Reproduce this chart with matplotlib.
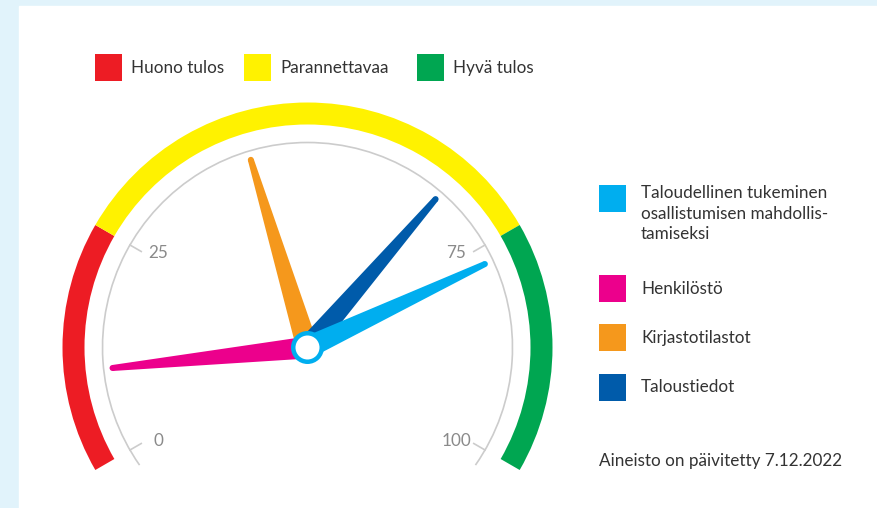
import numpy as np
import matplotlib
matplotlib.use("Agg")
from matplotlib import pyplot as plt
from matplotlib.patches import Wedge, Polygon, Circle, Arc, Rectangle

plt.rcParams['font.family'] = ['Lato', 'DejaVu Sans']

# vyöhykkeet (asteikko 0-100)
band_names = ["Huono tulos", "Parannettavaa", "Hyvä tulos"]
band_edges = [0, 25, 75, 100]
band_colors = ["#ed1c24", "#fff200", "#00a651"]

# osoittimet
series_names = ["Taloudellinen tukeminen\nosallistumisen mahdollis-\ntamiseksi",
                "Henkilöstö", "Kirjastotilastot", "Taloustiedot"]
series_values = [77, 10, 43, 67]
series_colors = ["#00aeef", "#ec008c", "#f5981c", "#005baa"]

tick_values = [0, 25, 75, 100]
tick_labels = ["0", "25", "75", "100"]

updated = "Aineisto on päivitetty 7.12.2022"

W, H = 877, 508
fig = plt.figure(figsize=(W / 100, H / 100), dpi=100)
fig.patch.set_facecolor("#e1f3fb")
ax = fig.add_axes([0, 0, 1, 1])
ax.set_xlim(0, W)
ax.set_ylim(0, H)
ax.axis("off")
ax.add_patch(Rectangle((19, 0), W - 19, H - 6, color="white", zorder=0))

cx, cy = 307.5, H - 347.5
R_OUT, BAND_W, R_GRID = 245, 22, 205
FS = 12.3


def angle(v):
    # 0 vasemmalla alhaalla, 100 oikealla alhaalla, 240 astetta
    return 210 - 2.4 * v


# värivyöhykkeet
for i in range(len(band_names)):
    ax.add_patch(Wedge((cx, cy), R_OUT, angle(band_edges[i + 1]), angle(band_edges[i]),
                       width=BAND_W, color=band_colors[i], lw=0, zorder=2))

# harmaa asteikkokaari ja tikit
ax.add_patch(Arc((cx, cy), 2 * R_GRID, 2 * R_GRID, theta1=-35, theta2=215,
                 color="#cccccc", lw=1.2, zorder=2))
for v, lab in zip(tick_values, tick_labels):
    a = np.deg2rad(angle(v))
    ax.plot([cx + 192 * np.cos(a), cx + R_GRID * np.cos(a)],
            [cy + 192 * np.sin(a), cy + R_GRID * np.sin(a)],
            color="#cccccc", lw=1.2, zorder=2)
    ax.text(cx + 172 * np.cos(a), cy + 188 * np.sin(a), lab, color="#8a8a8a",
            fontsize=FS, ha="center", va="center", zorder=3)

# osoittimet, pienin arvo alimmaisena
for z, i in enumerate(np.argsort(series_values)):
    a = np.deg2rad(angle(series_values[i]))
    u = np.array([np.cos(a), np.sin(a)])
    n = np.array([-u[1], u[0]])
    c = np.array([cx, cy])
    L, w0, w1 = 196, 11, 3
    pts = [c + w0 * n, c + L * u + w1 * n, c + L * u - w1 * n, c - w0 * n]
    ax.add_patch(Polygon(pts, closed=True, color=series_colors[i], lw=0, zorder=4 + z))
    ax.add_patch(Circle(c + L * u, w1, color=series_colors[i], lw=0, zorder=4 + z))

# keskiö
ax.add_patch(Circle((cx, cy), 16.5, color=series_colors[0], lw=0, zorder=10))
ax.add_patch(Circle((cx, cy), 12, color="white", lw=0, zorder=11))

txt_color = "#333333"

# ylälegenda
top_x = [95, 244, 417]
for x, name, col in zip(top_x, band_names, band_colors):
    ax.add_patch(Rectangle((x, H - 81), 27, 27, color=col, lw=0))
    ax.text(x + 36, H - 68, name, fontsize=FS, color=txt_color, ha="left", va="center")

# oikea legenda
right_y = [198.5, 288.5, 337.5, 387.5]
for y, name, col in zip(right_y, series_names, series_colors):
    ax.add_patch(Rectangle((599, H - y - 13.5), 27, 27, color=col, lw=0))
    if "\n" in name:
        ax.text(641, H - y + 13.5, name, fontsize=FS, color=txt_color, ha="left",
                va="top", linespacing=1.36)
    else:
        ax.text(641, H - y, name, fontsize=FS, color=txt_color, ha="left", va="center")

ax.text(599, H - 461, updated, fontsize=FS, color=txt_color, ha="left", va="center")

fig.savefig("out.png", dpi=100, facecolor=fig.get_facecolor())
